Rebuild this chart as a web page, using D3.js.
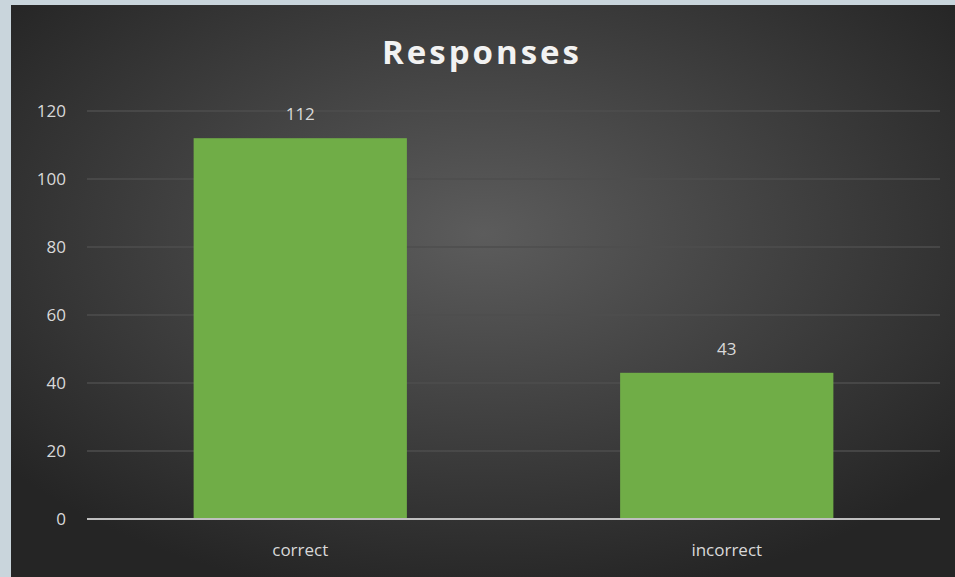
<!DOCTYPE html>
<html>
<head>
<meta charset="utf-8">
<script src="https://cdn.jsdelivr.net/npm/d3@7"></script>
<style>
  html, body { margin: 0; padding: 0; background: #c9d5dc; }
  svg { display: block; }
</style>
</head>
<body>
<div id="chart"></div>
<script>
// chart data
const categories = ["correct", "incorrect"];
const values = [112, 43];
const yTicks = [0, 20, 40, 60, 80, 100, 120];

const width = 955, height = 577;
const margin = {top: 111, right: 15, bottom: 58, left: 87};

const svg = d3.select("#chart").append("svg")
    .attr("width", width)
    .attr("height", height);

// dark radial background like the office theme
const defs = svg.append("defs");
const grad = defs.append("radialGradient")
    .attr("id", "bg")
    .attr("cx", "50%").attr("cy", "40%").attr("r", "65%");
grad.append("stop").attr("offset", "0%").attr("stop-color", "#5c5c5c");
grad.append("stop").attr("offset", "100%").attr("stop-color", "#252525");

svg.append("rect")
    .attr("x", 11).attr("y", 5)
    .attr("width", width - 11).attr("height", height - 5)
    .attr("fill", "url(#bg)");

const x = d3.scaleBand()
    .domain(categories)
    .range([margin.left, width - margin.right])
    .paddingInner(0.5)
    .paddingOuter(0.25);

const y = d3.scaleLinear()
    .domain([0, 120])
    .range([height - margin.bottom, margin.top]);

// gridlines
svg.append("g")
    .selectAll("line")
    .data(yTicks.filter(d => d > 0))
    .enter().append("line")
    .attr("x1", margin.left).attr("x2", width - margin.right)
    .attr("y1", d => y(d)).attr("y2", d => y(d))
    .attr("stroke", "#4e4e4e")
    .attr("stroke-width", 1.5);

// y tick labels
svg.append("g")
    .selectAll("text")
    .data(yTicks)
    .enter().append("text")
    .attr("x", 66)
    .attr("y", d => y(d))
    .attr("dy", "0.35em")
    .attr("text-anchor", "end")
    .attr("fill", "#d9d9d9")
    .style("font", "17px 'Open Sans', sans-serif")
    .text(d => d);

// bars
svg.append("g")
    .selectAll("rect")
    .data(values)
    .enter().append("rect")
    .attr("x", (d, i) => x(categories[i]))
    .attr("y", d => y(d))
    .attr("width", x.bandwidth())
    .attr("height", d => y(0) - y(d))
    .attr("fill", "#70ad47");

// value labels
svg.append("g")
    .selectAll("text")
    .data(values)
    .enter().append("text")
    .attr("x", (d, i) => x(categories[i]) + x.bandwidth() / 2)
    .attr("y", d => y(d) - 18)
    .attr("text-anchor", "middle")
    .attr("fill", "#d9d9d9")
    .style("font", "17px 'Open Sans', sans-serif")
    .text(d => d);

// x axis line
svg.append("line")
    .attr("x1", margin.left).attr("x2", width - margin.right)
    .attr("y1", y(0)).attr("y2", y(0))
    .attr("stroke", "#bfbfbf")
    .attr("stroke-width", 2);

// category labels
svg.append("g")
    .selectAll("text")
    .data(categories)
    .enter().append("text")
    .attr("x", d => x(d) + x.bandwidth() / 2)
    .attr("y", 556)
    .attr("text-anchor", "middle")
    .attr("fill", "#d9d9d9")
    .style("font", "17px 'Open Sans', sans-serif")
    .text(d => d);

// title
svg.append("text")
    .attr("x", 482)
    .attr("y", 64)
    .attr("text-anchor", "middle")
    .attr("fill", "#f2f2f2")
    .style("font", "bold 33px 'Open Sans', sans-serif")
    .style("letter-spacing", "3px")
    .text("Responses");
</script>
</body>
</html>
